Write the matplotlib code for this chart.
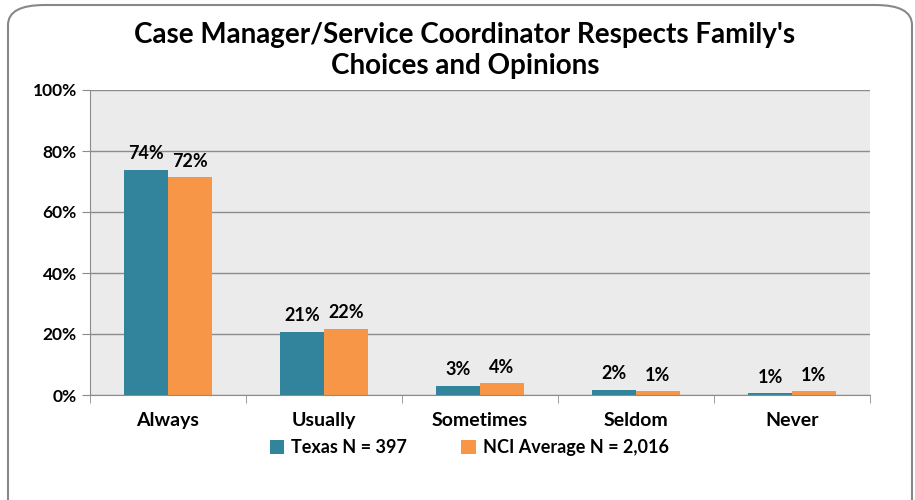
import matplotlib.pyplot as plt
import numpy as np
from matplotlib.patches import FancyBboxPatch

categories = ['Always', 'Usually', 'Sometimes', 'Seldom', 'Never']
texas = [73.8, 20.7, 2.95, 1.6, 0.55]
nci = [71.4, 21.6, 3.8, 1.2, 1.2]
texas_labels = ['74%', '21%', '3%', '2%', '1%']
nci_labels = ['72%', '22%', '4%', '1%', '1%']
series_names = ['Texas N = 397', 'NCI Average N = 2,016']

teal = '#31849B'
orange = '#F79646'

plt.rcParams['font.family'] = ['Lato', 'DejaVu Sans']

fig = plt.figure(figsize=(9.15, 5), dpi=100)
# rounded chart border
fig.patches.append(FancyBboxPatch((8 / 915, -0.05), 904 / 915, 1.04,
                                  boxstyle='round,pad=0,rounding_size=0.04',
                                  transform=fig.transFigure, fill=False,
                                  edgecolor='#888888', linewidth=1.5))

ax = fig.add_axes([90 / 915, 105 / 500, 780 / 915, 305 / 500])
ax.set_facecolor('#EBEBEB')

x = np.arange(len(categories))
w = 0.282
b1 = ax.bar(x - w / 2, texas, w, color=teal, label=series_names[0])
b2 = ax.bar(x + w / 2, nci, w, color=orange, label=series_names[1])

for bars, labels in [(b1, texas_labels), (b2, nci_labels)]:
    for rect, lab in zip(bars, labels):
        ax.text(rect.get_x() + rect.get_width() / 2, rect.get_height() + 2.5, lab,
                ha='center', va='bottom', fontsize=13, fontweight='bold')

ax.set_xlim(-0.5, len(categories) - 0.5)
ax.set_ylim(0, 100)
ax.set_yticks(np.arange(0, 101, 20))
ax.set_yticklabels([f'{v}%' for v in range(0, 101, 20)], fontsize=12.5, fontweight='bold')
ax.yaxis.grid(True, color='#8C8C8C', linewidth=1)
ax.set_axisbelow(True)

ax.set_xticks(x)
ax.set_xticklabels(categories, fontsize=14, fontweight='bold')
ax.tick_params(axis='x', length=0, pad=12)
ax.set_xticks(np.arange(-0.5, len(categories)), minor=True)
ax.tick_params(axis='x', which='minor', length=6, color='#8C8C8C')
ax.tick_params(axis='y', length=6, color='#8C8C8C')

for s in ['top', 'right']:
    ax.spines[s].set_visible(False)
ax.spines['left'].set_color('#8C8C8C')
ax.spines['bottom'].set_color('#8C8C8C')

fig.suptitle("Case Manager/Service Coordinator Respects Family's\nChoices and Opinions",
             x=0.508, y=0.955, fontsize=20, fontweight='bold', linespacing=1.2)

fig.legend(handles=[b1, b2], loc='center', bbox_to_anchor=(0.513, 0.105), ncol=2,
           frameon=False, prop={'weight': 'bold', 'size': 13},
           handlelength=0.8, handleheight=0.8, handletextpad=0.4, columnspacing=3.0)

fig.savefig('out.png', dpi=100)
